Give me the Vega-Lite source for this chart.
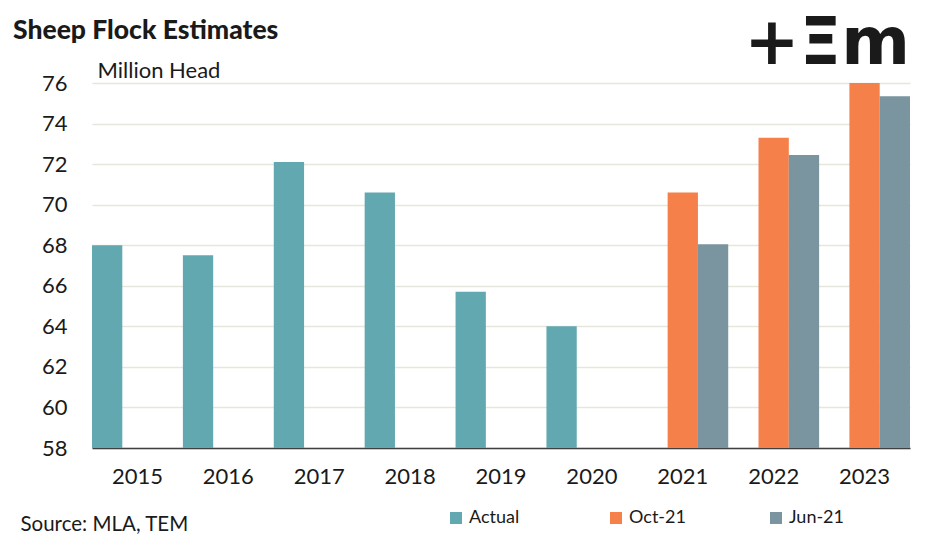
{
  "$schema": "https://vega.github.io/schema/vega-lite/v6.json",
  "width": 818,
  "height": 365,
  "autosize": {"type": "none"},
  "padding": {"left": 92, "top": 83, "right": 37, "bottom": 93},
  "background": "white",
  "title": {"text": "Sheep Flock Estimates", "anchor": "start", "frame": "group", "fontSize": 26.5, "fontWeight": 900, "font": "Lato", "color": "#1a1a1a", "dx": -79, "dy": 40, "offset": 6},
  "config": {"view": {"stroke": null}, "font": "Lato"},
  "layer": [
    {
      "data": {"values": [
        {"year": "2015", "series": "Actual", "value": 68.0},
        {"year": "2016", "series": "Actual", "value": 67.5},
        {"year": "2017", "series": "Actual", "value": 72.1},
        {"year": "2018", "series": "Actual", "value": 70.6},
        {"year": "2019", "series": "Actual", "value": 65.7},
        {"year": "2020", "series": "Actual", "value": 64.0},
        {"year": "2021", "series": "Oct-21", "value": 70.6},
        {"year": "2021", "series": "Jun-21", "value": 68.05},
        {"year": "2022", "series": "Oct-21", "value": 73.3},
        {"year": "2022", "series": "Jun-21", "value": 72.45},
        {"year": "2023", "series": "Oct-21", "value": 76.0},
        {"year": "2023", "series": "Jun-21", "value": 75.35}
      ]},
      "mark": {"type": "bar"},
      "encoding": {
        "x": {"field": "year", "type": "nominal", "scale": {"paddingInner": 0, "paddingOuter": 0},
          "axis": {"title": "Source: MLA, TEM", "titleX": -72, "titleY": 82, "titleAlign": "left", "titleBaseline": "alphabetic", "titleFontSize": 20.5, "titleFontWeight": "normal", "titleColor": "#1a1a1a", "labelAngle": 0, "labelFontSize": 22, "labelPadding": 18, "ticks": false, "domainColor": "#404040", "domainWidth": 1.5, "labelColor": "#1a1a1a"}},
        "xOffset": {"field": "series", "type": "nominal", "scale": {"domain": ["Actual", "Oct-21", "Jun-21"], "paddingInner": 0, "paddingOuter": 0}},
        "y": {"field": "value", "type": "quantitative", "scale": {"domain": [58, 76], "nice": false, "zero": false},
          "axis": {"values": [58, 60, 62, 64, 66, 68, 70, 72, 74, 76], "title": "Million Head", "titleX": 5, "titleY": -6, "titleAngle": 0, "titleAlign": "left", "titleBaseline": "alphabetic", "titleFontSize": 22, "titleFontWeight": "normal", "titleColor": "#1a1a1a", "domain": false, "ticks": false, "grid": true, "gridColor": "#E6E6DC", "gridWidth": 1.5, "labelFontSize": 22, "labelPadding": 25, "labelColor": "#1a1a1a"}},
        "y2": {"datum": 58},
        "color": {"field": "series", "type": "nominal",
          "scale": {"domain": ["Actual", "Oct-21", "Jun-21"], "range": ["#62A8B0", "#F58049", "#7A95A0"]},
          "legend": {"orient": "none", "legendX": 355, "legendY": 426, "direction": "horizontal", "title": null, "symbolType": "square", "symbolSize": 144, "symbolStrokeWidth": 0, "labelFontSize": 18, "labelOffset": 4, "labelColor": "#1a1a1a", "columnPadding": 81, "gridAlign": "all"}}
      }
    },
    {
      "data": {"values": [{"logo": "+Ξm"}]},
      "mark": {"type": "text", "font": "DejaVu Sans", "fontWeight": "bold", "fontSize": 66, "align": "right", "baseline": "middle", "color": "#1a1a1a"},
      "encoding": {
        "x": {"datum": "2023", "bandPosition": 1},
        "y": {"datum": 77.94},
        "text": {"field": "logo"}
      }
    }
  ]
}
